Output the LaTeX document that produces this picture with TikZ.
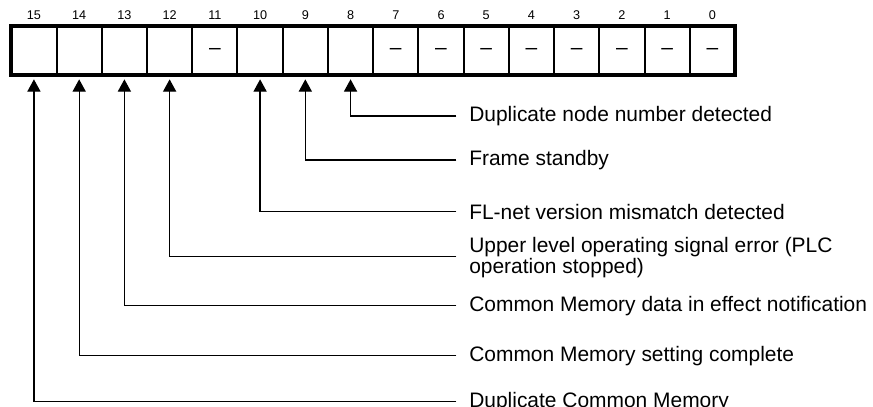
\documentclass[tikz,border=0pt]{standalone}
\usepackage{fontspec}
\setmainfont{Liberation Sans}
\usetikzlibrary{arrows.meta}

\begin{document}
\begin{tikzpicture}[
    >={Triangle[length=0.31cm, width=0.33cm]},
    cell/.style={draw, line width=1.4pt, minimum width=1.1308cm, minimum height=1.233cm,
      inner sep=0pt, outer sep=0pt, text height=0.55em, text depth=0pt,
      font=\fontsize{14.9}{12}\selectfont},
    bitnum/.style={font=\fontsize{9}{11}\selectfont, inner sep=0pt},
    sig/.style={->, line width=0.9pt, shorten >=0.1cm, shorten <=0.315cm},
    desc/.style={anchor=west, inner sep=0pt, align=left, font=\fontsize{14.9}{11.9}\selectfont}
  ]

  \useasboundingbox (0,0) rectangle (21.825,-10.15);

  % Registro a 16 bit
  \foreach \b/\t in {15/, 14/, 13/, 12/, 11/--, 10/, 9/, 8/, 7/--, 6/--, 5/--, 4/--, 3/--, 2/--, 1/--, 0/--} {
    \node[cell] (bit\b) at ({0.283+(15.5-\b)*1.1308}, -1.2665) {\t};
    \node[bitnum] (num\b) at ({0.283+(15.5-\b)*1.1308}, -0.3875) {\b};
  }
  \draw[line width=2.85pt] (bit15.north west) rectangle (bit0.south east);

  % Descrizioni
  \node[desc] (dupnode) at (11.725, -2.9)  {Duplicate node number detected};
  \node[desc] (standby) at (11.725, -4.0)  {Frame standby};
  \node[desc] (version) at (11.725, -5.29) {FL-net version mismatch detected};
  \node[desc, anchor=base west] (plcerr) at (11.725, -6.833) {Upper level operating signal error (PLC\\operation stopped)};
  \node[desc] (cmdata)  at (11.725, -7.64) {Common Memory data in effect notification};
  \node[desc] (cmset)   at (11.725, -8.89) {Common Memory setting complete};
  \node[desc] (cmdup)   at (11.725, -10.04) {Duplicate Common Memory};

  % Frecce
  \draw[sig] (dupnode.west)    -| (bit8.south);
  \draw[sig] (standby.west)    -| (bit9.south);
  \draw[sig] (version.west)    -| (bit10.south);
  \draw[sig] ([yshift=0.418cm]plcerr.base west) -| (bit12.south);
  \draw[sig] (cmdata.west)     -| (bit13.south);
  \draw[sig] (cmset.west)      -| (bit14.south);
  \draw[sig] (cmdup.west)      -| (bit15.south);

\end{tikzpicture}
\end{document}
